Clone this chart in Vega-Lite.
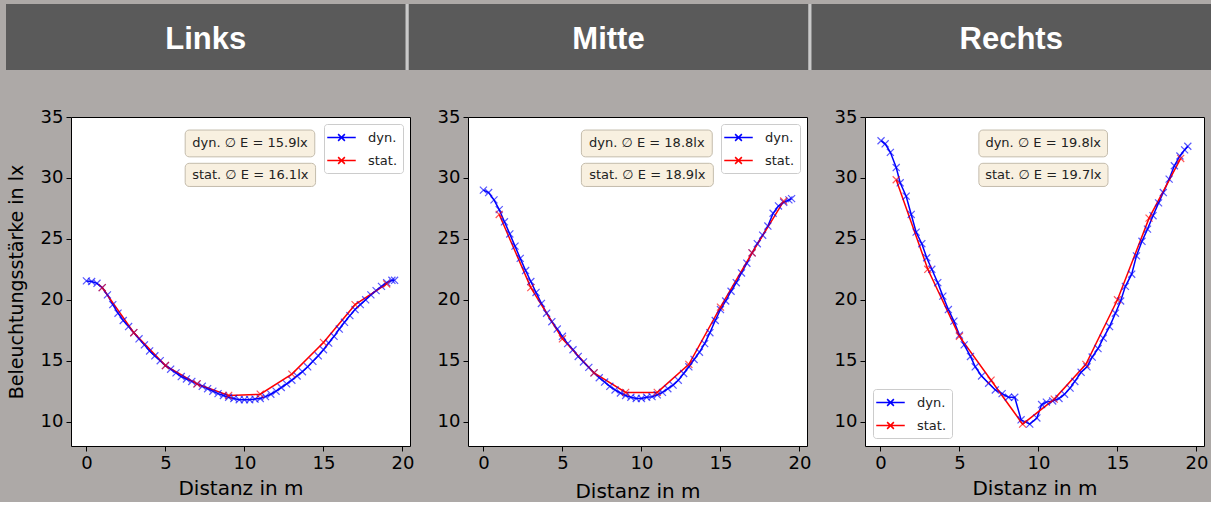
{
  "$schema": "https://vega.github.io/schema/vega-lite/v6.json",
  "background": "#ada9a7",
  "padding": {"left": 6, "top": 4, "right": 0, "bottom": 0},
  "spacing": 37,
  "columns": 1,
  "align": "none",
  "bounds": "full",
  "config": {
    "view": {"stroke": "black", "strokeWidth": 1, "fill": "white"},
    "axis": {"domain": false, "grid": false, "tickColor": "black", "tickSize": 5, "labelColor": "black", "labelFont": "DejaVu Sans", "labelFontSize": 18, "titleFont": "DejaVu Sans", "titleFontWeight": "normal", "titleColor": "black", "titleFontSize": 19, "labelPadding": 3},
    "legend": {"orient": "top-right", "offset": 7, "title": null, "fillColor": "white", "strokeColor": "#cccccc", "cornerRadius": 3, "padding": 5, "rowPadding": 7, "labelFont": "DejaVu Sans", "labelFontSize": 13, "labelColor": "#222222", "labelOffset": 18, "symbolOffset": 4, "symbolType": "M-1.9,0L1.9,0M-0.45,-0.45L0.45,0.45M-0.45,0.45L0.45,-0.45", "symbolSize": 225, "symbolStrokeWidth": 1.5, "symbolOpacity": 1}
  },
  "datasets": {
    "links": [
      {"d": 0, "E": 21.55, "s": "dyn."}, {"d": 0.33, "E": 21.5, "s": "dyn."}, {"d": 0.67, "E": 21.35, "s": "dyn."}, {"d": 1, "E": 21.0, "s": "dyn."}, {"d": 1.33, "E": 20.4, "s": "dyn."}, {"d": 1.67, "E": 19.6, "s": "dyn."}, {"d": 2, "E": 18.9, "s": "dyn."}, {"d": 2.33, "E": 18.3, "s": "dyn."}, {"d": 2.67, "E": 17.8, "s": "dyn."}, {"d": 3, "E": 17.3, "s": "dyn."}, {"d": 3.33, "E": 16.8, "s": "dyn."}, {"d": 3.67, "E": 16.3, "s": "dyn."}, {"d": 4, "E": 15.8, "s": "dyn."}, {"d": 4.33, "E": 15.4, "s": "dyn."}, {"d": 4.67, "E": 15.0, "s": "dyn."}, {"d": 5, "E": 14.6, "s": "dyn."}, {"d": 5.33, "E": 14.3, "s": "dyn."}, {"d": 5.67, "E": 14.0, "s": "dyn."}, {"d": 6, "E": 13.7, "s": "dyn."}, {"d": 6.33, "E": 13.5, "s": "dyn."}, {"d": 6.67, "E": 13.3, "s": "dyn."}, {"d": 7, "E": 13.1, "s": "dyn."}, {"d": 7.33, "E": 12.9, "s": "dyn."}, {"d": 7.67, "E": 12.7, "s": "dyn."}, {"d": 8, "E": 12.5, "s": "dyn."}, {"d": 8.33, "E": 12.3, "s": "dyn."}, {"d": 8.67, "E": 12.15, "s": "dyn."}, {"d": 9, "E": 12.0, "s": "dyn."}, {"d": 9.33, "E": 11.9, "s": "dyn."}, {"d": 9.67, "E": 11.8, "s": "dyn."}, {"d": 10, "E": 11.8, "s": "dyn."}, {"d": 10.33, "E": 11.8, "s": "dyn."}, {"d": 10.67, "E": 11.85, "s": "dyn."}, {"d": 11, "E": 11.9, "s": "dyn."}, {"d": 11.33, "E": 12.05, "s": "dyn."}, {"d": 11.67, "E": 12.25, "s": "dyn."}, {"d": 12, "E": 12.5, "s": "dyn."}, {"d": 12.33, "E": 12.8, "s": "dyn."}, {"d": 12.67, "E": 13.1, "s": "dyn."}, {"d": 13, "E": 13.4, "s": "dyn."}, {"d": 13.33, "E": 13.75, "s": "dyn."}, {"d": 13.67, "E": 14.1, "s": "dyn."}, {"d": 14, "E": 14.5, "s": "dyn."}, {"d": 14.33, "E": 14.95, "s": "dyn."}, {"d": 14.67, "E": 15.4, "s": "dyn."}, {"d": 15, "E": 15.9, "s": "dyn."}, {"d": 15.33, "E": 16.45, "s": "dyn."}, {"d": 15.67, "E": 17.0, "s": "dyn."}, {"d": 16, "E": 17.6, "s": "dyn."}, {"d": 16.33, "E": 18.15, "s": "dyn."}, {"d": 16.67, "E": 18.7, "s": "dyn."}, {"d": 17, "E": 19.2, "s": "dyn."}, {"d": 17.33, "E": 19.6, "s": "dyn."}, {"d": 17.67, "E": 20.0, "s": "dyn."}, {"d": 18, "E": 20.4, "s": "dyn."}, {"d": 18.33, "E": 20.75, "s": "dyn."}, {"d": 18.67, "E": 21.1, "s": "dyn."}, {"d": 19, "E": 21.4, "s": "dyn."}, {"d": 19.33, "E": 21.6, "s": "dyn."}, {"d": 19.5, "E": 21.6, "s": "dyn."},
      {"d": 1, "E": 21.0, "s": "stat."}, {"d": 3, "E": 17.3, "s": "stat."}, {"d": 5, "E": 14.6, "s": "stat."}, {"d": 7, "E": 13.1, "s": "stat."}, {"d": 9, "E": 12.15, "s": "stat."}, {"d": 11, "E": 12.25, "s": "stat."}, {"d": 13, "E": 13.9, "s": "stat."}, {"d": 15, "E": 16.5, "s": "stat."}, {"d": 17, "E": 19.6, "s": "stat."}, {"d": 19, "E": 21.3, "s": "stat."}
    ],
    "mitte": [
      {"d": 0, "E": 29.0, "s": "dyn."}, {"d": 0.33, "E": 28.8, "s": "dyn."}, {"d": 0.67, "E": 28.2, "s": "dyn."}, {"d": 1, "E": 27.4, "s": "dyn."}, {"d": 1.33, "E": 26.4, "s": "dyn."}, {"d": 1.67, "E": 25.4, "s": "dyn."}, {"d": 2, "E": 24.4, "s": "dyn."}, {"d": 2.33, "E": 23.4, "s": "dyn."}, {"d": 2.67, "E": 22.4, "s": "dyn."}, {"d": 3, "E": 21.5, "s": "dyn."}, {"d": 3.33, "E": 20.6, "s": "dyn."}, {"d": 3.67, "E": 19.7, "s": "dyn."}, {"d": 4, "E": 18.9, "s": "dyn."}, {"d": 4.33, "E": 18.2, "s": "dyn."}, {"d": 4.67, "E": 17.6, "s": "dyn."}, {"d": 5, "E": 17.0, "s": "dyn."}, {"d": 5.33, "E": 16.4, "s": "dyn."}, {"d": 5.67, "E": 15.9, "s": "dyn."}, {"d": 6, "E": 15.35, "s": "dyn."}, {"d": 6.33, "E": 14.9, "s": "dyn."}, {"d": 6.67, "E": 14.45, "s": "dyn."}, {"d": 7, "E": 14.0, "s": "dyn."}, {"d": 7.33, "E": 13.6, "s": "dyn."}, {"d": 7.67, "E": 13.25, "s": "dyn."}, {"d": 8, "E": 12.9, "s": "dyn."}, {"d": 8.33, "E": 12.6, "s": "dyn."}, {"d": 8.67, "E": 12.35, "s": "dyn."}, {"d": 9, "E": 12.15, "s": "dyn."}, {"d": 9.33, "E": 12.0, "s": "dyn."}, {"d": 9.67, "E": 11.9, "s": "dyn."}, {"d": 10, "E": 11.9, "s": "dyn."}, {"d": 10.33, "E": 12.0, "s": "dyn."}, {"d": 10.67, "E": 12.05, "s": "dyn."}, {"d": 11, "E": 12.2, "s": "dyn."}, {"d": 11.33, "E": 12.4, "s": "dyn."}, {"d": 11.67, "E": 12.7, "s": "dyn."}, {"d": 12, "E": 13.0, "s": "dyn."}, {"d": 12.33, "E": 13.4, "s": "dyn."}, {"d": 12.67, "E": 13.95, "s": "dyn."}, {"d": 13, "E": 14.5, "s": "dyn."}, {"d": 13.33, "E": 15.1, "s": "dyn."}, {"d": 13.67, "E": 15.7, "s": "dyn."}, {"d": 14, "E": 16.4, "s": "dyn."}, {"d": 14.33, "E": 17.3, "s": "dyn."}, {"d": 14.67, "E": 18.3, "s": "dyn."}, {"d": 15, "E": 19.2, "s": "dyn."}, {"d": 15.33, "E": 19.9, "s": "dyn."}, {"d": 15.67, "E": 20.7, "s": "dyn."}, {"d": 16, "E": 21.4, "s": "dyn."}, {"d": 16.33, "E": 22.2, "s": "dyn."}, {"d": 16.67, "E": 23.0, "s": "dyn."}, {"d": 17, "E": 23.85, "s": "dyn."}, {"d": 17.33, "E": 24.6, "s": "dyn."}, {"d": 17.67, "E": 25.3, "s": "dyn."}, {"d": 18, "E": 26.05, "s": "dyn."}, {"d": 18.33, "E": 27.1, "s": "dyn."}, {"d": 18.67, "E": 27.7, "s": "dyn."}, {"d": 19, "E": 28.0, "s": "dyn."}, {"d": 19.33, "E": 28.2, "s": "dyn."}, {"d": 19.5, "E": 28.3, "s": "dyn."},
      {"d": 1, "E": 27.0, "s": "stat."}, {"d": 3, "E": 21.0, "s": "stat."}, {"d": 5, "E": 16.8, "s": "stat."}, {"d": 7, "E": 14.0, "s": "stat."}, {"d": 9, "E": 12.4, "s": "stat."}, {"d": 11, "E": 12.4, "s": "stat."}, {"d": 13, "E": 14.7, "s": "stat."}, {"d": 15, "E": 19.4, "s": "stat."}, {"d": 17, "E": 23.85, "s": "stat."}, {"d": 19, "E": 28.1, "s": "stat."}
    ],
    "rechts": [
      {"d": 0.04, "E": 33.05, "s": "dyn."}, {"d": 0.3, "E": 32.8, "s": "dyn."}, {"d": 0.63, "E": 32.1, "s": "dyn."}, {"d": 1.0, "E": 30.85, "s": "dyn."}, {"d": 1.25, "E": 29.6, "s": "dyn."}, {"d": 1.63, "E": 28.5, "s": "dyn."}, {"d": 1.95, "E": 27.0, "s": "dyn."}, {"d": 2.26, "E": 25.55, "s": "dyn."}, {"d": 2.62, "E": 24.6, "s": "dyn."}, {"d": 2.93, "E": 23.45, "s": "dyn."}, {"d": 3.25, "E": 22.5, "s": "dyn."}, {"d": 3.63, "E": 21.4, "s": "dyn."}, {"d": 3.95, "E": 20.3, "s": "dyn."}, {"d": 4.3, "E": 19.2, "s": "dyn."}, {"d": 4.65, "E": 18.25, "s": "dyn."}, {"d": 5.0, "E": 17.1, "s": "dyn."}, {"d": 5.3, "E": 16.3, "s": "dyn."}, {"d": 5.7, "E": 15.35, "s": "dyn."}, {"d": 6.0, "E": 14.5, "s": "dyn."}, {"d": 6.4, "E": 13.75, "s": "dyn."}, {"d": 6.85, "E": 13.15, "s": "dyn."}, {"d": 7.27, "E": 12.6, "s": "dyn."}, {"d": 7.7, "E": 12.3, "s": "dyn."}, {"d": 8.1, "E": 12.0, "s": "dyn."}, {"d": 8.5, "E": 12.0, "s": "dyn."}, {"d": 8.9, "E": 10.15, "s": "dyn."}, {"d": 9.45, "E": 9.8, "s": "dyn."}, {"d": 9.9, "E": 10.3, "s": "dyn."}, {"d": 10.2, "E": 11.4, "s": "dyn."}, {"d": 10.5, "E": 11.6, "s": "dyn."}, {"d": 10.9, "E": 11.7, "s": "dyn."}, {"d": 11.3, "E": 11.9, "s": "dyn."}, {"d": 11.65, "E": 12.25, "s": "dyn."}, {"d": 12.0, "E": 12.75, "s": "dyn."}, {"d": 12.3, "E": 13.3, "s": "dyn."}, {"d": 12.7, "E": 14.05, "s": "dyn."}, {"d": 13.07, "E": 14.5, "s": "dyn."}, {"d": 13.4, "E": 15.3, "s": "dyn."}, {"d": 13.77, "E": 16.0, "s": "dyn."}, {"d": 14.1, "E": 16.85, "s": "dyn."}, {"d": 14.5, "E": 17.8, "s": "dyn."}, {"d": 14.87, "E": 18.9, "s": "dyn."}, {"d": 15.2, "E": 19.9, "s": "dyn."}, {"d": 15.5, "E": 21.1, "s": "dyn."}, {"d": 15.9, "E": 22.1, "s": "dyn."}, {"d": 16.2, "E": 23.6, "s": "dyn."}, {"d": 16.55, "E": 24.8, "s": "dyn."}, {"d": 16.9, "E": 25.8, "s": "dyn."}, {"d": 17.25, "E": 26.9, "s": "dyn."}, {"d": 17.6, "E": 27.95, "s": "dyn."}, {"d": 17.9, "E": 28.8, "s": "dyn."}, {"d": 18.27, "E": 29.9, "s": "dyn."}, {"d": 18.6, "E": 31.0, "s": "dyn."}, {"d": 18.95, "E": 31.8, "s": "dyn."}, {"d": 19.25, "E": 32.3, "s": "dyn."}, {"d": 19.45, "E": 32.6, "s": "dyn."},
      {"d": 1, "E": 29.85, "s": "stat."}, {"d": 3, "E": 22.5, "s": "stat."}, {"d": 5, "E": 17.0, "s": "stat."}, {"d": 7, "E": 13.4, "s": "stat."}, {"d": 9, "E": 9.8, "s": "stat."}, {"d": 11, "E": 11.85, "s": "stat."}, {"d": 13, "E": 14.7, "s": "stat."}, {"d": 15, "E": 20.0, "s": "stat."}, {"d": 17, "E": 26.7, "s": "stat."}, {"d": 19, "E": 31.6, "s": "stat."}
    ]
  },
  "concat": [
    {
      "width": 1140,
      "height": 66,
      "view": {"stroke": null, "fill": "#c9c9c9"},
      "data": {"values": [{"panel": "Links"}, {"panel": "Mitte"}, {"panel": "Rechts"}]},
      "encoding": {
        "x": {"field": "panel", "type": "nominal", "sort": null, "axis": null, "scale": {"range": [-65, 1140], "paddingInner": 0.008, "paddingOuter": 0}}
      },
      "layer": [
        {"mark": {"type": "rect", "fill": "#5a5a5a"}},
        {"mark": {"type": "text", "color": "white", "font": "Liberation Sans", "fontWeight": "bold", "fontSize": 31, "baseline": "middle", "dy": 3}, "encoding": {"text": {"field": "panel"}}}
      ]
    },
    {
      "hconcat": [
        {
          "width": 339, "height": 329,
          "layer": [
            {"data": {"name": "links"}, "mark": {"type": "line", "strokeWidth": 1.5, "clip": true}, "encoding": {
              "x": {"field": "d", "type": "quantitative", "scale": {"domain": [-0.975, 20.475], "nice": false, "zero": false}, "axis": {"values": [0, 5, 10, 15, 20], "title": "Distanz in m", "titleFontSize": 20, "titlePadding": 6}},
              "y": {"field": "E", "type": "quantitative", "scale": {"domain": [8, 35], "nice": false, "zero": false}, "axis": {"values": [10, 15, 20, 25, 30, 35], "title": "Beleuchtungsstärke in lx", "titlePadding": 14}},
              "color": {"field": "s", "type": "nominal", "scale": {"domain": ["dyn.", "stat."], "range": ["#0000ff", "#ff0000"]}}}},
            {"data": {"name": "links"}, "mark": {"type": "point", "shape": "M-1,-1L1,1M-1,1L1,-1", "filled": false, "size": 50, "strokeWidth": 1.2, "opacity": 0.65}, "encoding": {
              "x": {"field": "d", "type": "quantitative"}, "y": {"field": "E", "type": "quantitative"}, "color": {"field": "s", "type": "nominal"}}},
            {"data": {"values": [{"t": "dyn. ∅ E = 15.9lx"}]}, "mark": {"type": "rect", "fill": "#f8f0e0", "stroke": "#c4bcac", "cornerRadius": 4}, "encoding": {"x": {"datum": 6.25}, "x2": {"datum": 14.45}, "y": {"datum": 33.93}, "y2": {"datum": 31.73}}},
            {"data": {"values": [{"t": "dyn. ∅ E = 15.9lx"}]}, "mark": {"type": "text", "font": "DejaVu Sans", "fontSize": 13, "color": "#222222", "baseline": "middle"}, "encoding": {"x": {"datum": 10.35}, "y": {"datum": 32.83}, "text": {"field": "t"}}},
            {"data": {"values": [{"t": "stat. ∅ E = 16.1lx"}]}, "mark": {"type": "rect", "fill": "#f8f0e0", "stroke": "#c4bcac", "cornerRadius": 4}, "encoding": {"x": {"datum": 6.25}, "x2": {"datum": 14.5}, "y": {"datum": 31.2}, "y2": {"datum": 29.3}}},
            {"data": {"values": [{"t": "stat. ∅ E = 16.1lx"}]}, "mark": {"type": "text", "font": "DejaVu Sans", "fontSize": 13, "color": "#222222", "baseline": "middle"}, "encoding": {"x": {"datum": 10.37}, "y": {"datum": 30.25}, "text": {"field": "t"}}}
          ]
        },
        {
          "width": 339, "height": 329,
          "layer": [
            {"data": {"name": "mitte"}, "mark": {"type": "line", "strokeWidth": 1.5, "clip": true}, "encoding": {
              "x": {"field": "d", "type": "quantitative", "scale": {"domain": [-0.975, 20.475], "nice": false, "zero": false}, "axis": {"values": [0, 5, 10, 15, 20], "title": "Distanz in m", "titleFontSize": 20, "titlePadding": 9}},
              "y": {"field": "E", "type": "quantitative", "scale": {"domain": [8, 35], "nice": false, "zero": false}, "axis": {"values": [10, 15, 20, 25, 30, 35], "title": null}},
              "color": {"field": "s", "type": "nominal", "scale": {"domain": ["dyn.", "stat."], "range": ["#0000ff", "#ff0000"]}}}},
            {"data": {"name": "mitte"}, "mark": {"type": "point", "shape": "M-1,-1L1,1M-1,1L1,-1", "filled": false, "size": 50, "strokeWidth": 1.2, "opacity": 0.65}, "encoding": {
              "x": {"field": "d", "type": "quantitative"}, "y": {"field": "E", "type": "quantitative"}, "color": {"field": "s", "type": "nominal"}}},
            {"data": {"values": [{"t": "dyn. ∅ E = 18.8lx"}]}, "mark": {"type": "rect", "fill": "#f8f0e0", "stroke": "#c4bcac", "cornerRadius": 4}, "encoding": {"x": {"datum": 6.2}, "x2": {"datum": 14.48}, "y": {"datum": 33.93}, "y2": {"datum": 31.73}}},
            {"data": {"values": [{"t": "dyn. ∅ E = 18.8lx"}]}, "mark": {"type": "text", "font": "DejaVu Sans", "fontSize": 13, "color": "#222222", "baseline": "middle"}, "encoding": {"x": {"datum": 10.34}, "y": {"datum": 32.83}, "text": {"field": "t"}}},
            {"data": {"values": [{"t": "stat. ∅ E = 18.9lx"}]}, "mark": {"type": "rect", "fill": "#f8f0e0", "stroke": "#c4bcac", "cornerRadius": 4}, "encoding": {"x": {"datum": 6.2}, "x2": {"datum": 14.55}, "y": {"datum": 31.2}, "y2": {"datum": 29.3}}},
            {"data": {"values": [{"t": "stat. ∅ E = 18.9lx"}]}, "mark": {"type": "text", "font": "DejaVu Sans", "fontSize": 13, "color": "#222222", "baseline": "middle"}, "encoding": {"x": {"datum": 10.37}, "y": {"datum": 30.25}, "text": {"field": "t"}}}
          ]
        },
        {
          "width": 339, "height": 329,
          "layer": [
            {"data": {"name": "rechts"}, "mark": {"type": "line", "strokeWidth": 1.5, "clip": true}, "encoding": {
              "x": {"field": "d", "type": "quantitative", "scale": {"domain": [-0.975, 20.475], "nice": false, "zero": false}, "axis": {"values": [0, 5, 10, 15, 20], "title": "Distanz in m", "titleFontSize": 20, "titlePadding": 6}},
              "y": {"field": "E", "type": "quantitative", "scale": {"domain": [8, 35], "nice": false, "zero": false}, "axis": {"values": [10, 15, 20, 25, 30, 35], "title": null}},
              "color": {"field": "s", "type": "nominal", "scale": {"domain": ["dyn.", "stat."], "range": ["#0000ff", "#ff0000"]}, "legend": {"orient": "bottom-left", "offset": 8}}}},
            {"data": {"name": "rechts"}, "mark": {"type": "point", "shape": "M-1,-1L1,1M-1,1L1,-1", "filled": false, "size": 50, "strokeWidth": 1.2, "opacity": 0.65}, "encoding": {
              "x": {"field": "d", "type": "quantitative"}, "y": {"field": "E", "type": "quantitative"}, "color": {"field": "s", "type": "nominal"}}},
            {"data": {"values": [{"t": "dyn. ∅ E = 19.8lx"}]}, "mark": {"type": "rect", "fill": "#f8f0e0", "stroke": "#c4bcac", "cornerRadius": 4}, "encoding": {"x": {"datum": 6.23}, "x2": {"datum": 14.37}, "y": {"datum": 33.93}, "y2": {"datum": 31.73}}},
            {"data": {"values": [{"t": "dyn. ∅ E = 19.8lx"}]}, "mark": {"type": "text", "font": "DejaVu Sans", "fontSize": 13, "color": "#222222", "baseline": "middle"}, "encoding": {"x": {"datum": 10.3}, "y": {"datum": 32.83}, "text": {"field": "t"}}},
            {"data": {"values": [{"t": "stat. ∅ E = 19.7lx"}]}, "mark": {"type": "rect", "fill": "#f8f0e0", "stroke": "#c4bcac", "cornerRadius": 4}, "encoding": {"x": {"datum": 6.23}, "x2": {"datum": 14.4}, "y": {"datum": 31.2}, "y2": {"datum": 29.3}}},
            {"data": {"values": [{"t": "stat. ∅ E = 19.7lx"}]}, "mark": {"type": "text", "font": "DejaVu Sans", "fontSize": 13, "color": "#222222", "baseline": "middle"}, "encoding": {"x": {"datum": 10.31}, "y": {"datum": 30.25}, "text": {"field": "t"}}}
          ]
        }
      ],
      "spacing": 58,
      "bounds": "flush",
      "resolve": {"scale": {"color": "independent"}, "legend": {"color": "independent"}}
    }
  ]
}
